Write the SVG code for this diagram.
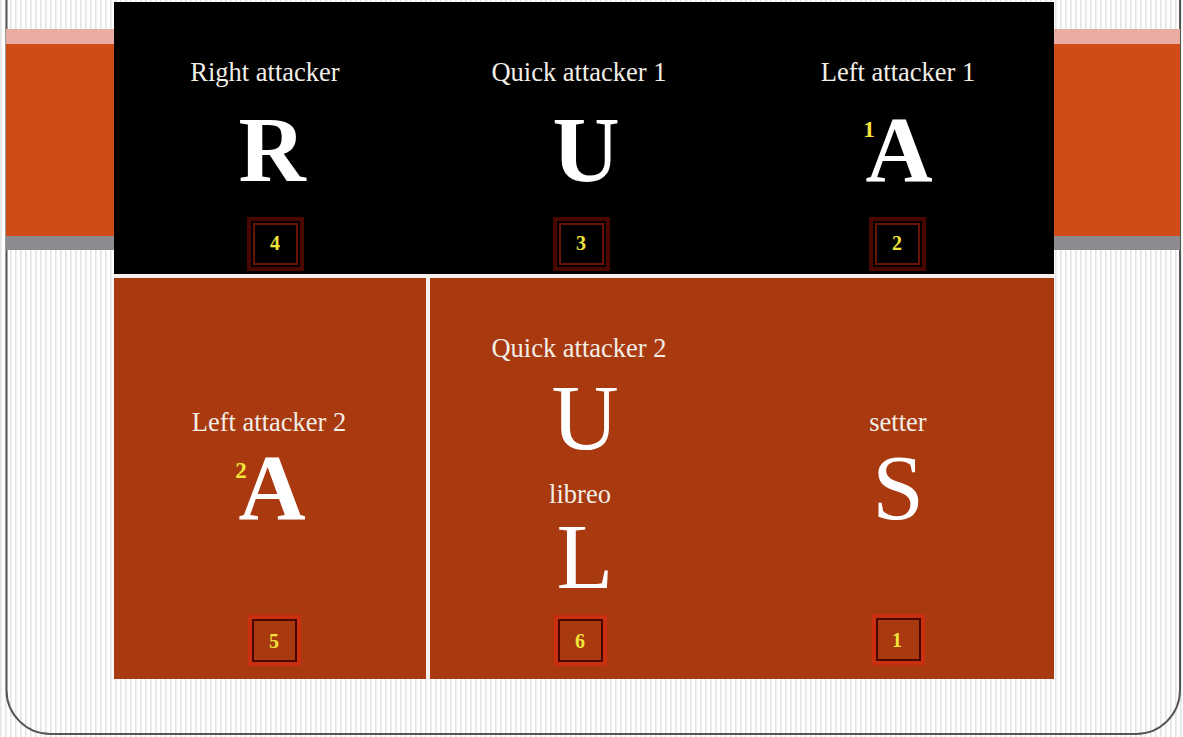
<svg xmlns="http://www.w3.org/2000/svg" width="1183" height="737" viewBox="0 0 1183 737">
<defs>
<pattern id="stripes" width="5" height="10" patternUnits="userSpaceOnUse">
<rect width="5" height="10" fill="#ffffff"/>
<rect x="0" width="1.6" height="10" fill="#e4e4e6"/>
</pattern>
</defs>
<style>
.lbl{font-family:"Liberation Serif","DejaVu Serif",serif;font-size:26.5px;fill:#f2eee6;text-anchor:middle}
.big{font-family:"Liberation Serif","DejaVu Serif",serif;font-size:93px;fill:#ffffff;text-anchor:middle}
.bold{font-weight:bold}
.num{font-family:"Liberation Serif","DejaVu Serif",serif;font-size:20px;font-weight:bold;fill:#f3e43c;text-anchor:middle}
.sup{font-family:"Liberation Serif","DejaVu Serif",serif;font-size:23px;font-weight:bold;fill:#f3e43c;text-anchor:middle}
.boxO{fill:none;stroke:#4a0700;stroke-width:4}
.boxI{fill:#000;stroke:#6a1106;stroke-width:2}
.bboxO{fill:none;stroke:#c8300f;stroke-width:4}
.bboxI{fill:#a9390f;stroke:#4a0700;stroke-width:2}
</style>
<rect width="1183" height="737" fill="url(#stripes)"/>
<path d="M6.5 0 V690 A44 44 0 0 0 50.5 734 H1136 A44 44 0 0 0 1180 690 V0" fill="none" stroke="#555555" stroke-width="2"/>
<rect x="6" y="29" width="1174" height="15" fill="#e8aca3"/>
<rect x="6" y="44" width="1174" height="192" fill="#d14b19"/>
<rect x="6" y="236" width="1174" height="14" fill="#8e8a91"/>
<rect x="114" y="2" width="940" height="272" fill="#000000"/>
<rect x="114" y="274" width="940" height="4" fill="#f4efea"/>
<rect x="114" y="278" width="312" height="401" fill="#a9390f"/>
<rect x="426" y="278" width="4" height="401" fill="#f4efea"/>
<rect x="430" y="278" width="624" height="401" fill="#a9390f"/>

<g id="right-attacker">
<text class="lbl" x="265" y="81">Right attacker</text>
<text class="big bold" x="272" y="181">R</text>
<rect class="boxO" x="249" y="219" width="53" height="50"/>
<rect class="boxI" x="254" y="224" width="43" height="40"/>
<text class="num" x="275" y="250">4</text>
</g>
<g id="quick-attacker-1">
<text class="lbl" x="579" y="81">Quick attacker 1</text>
<text class="big bold" x="586" y="181">U</text>
<rect class="boxO" x="555" y="219" width="53" height="50"/>
<rect class="boxI" x="560" y="224" width="43" height="40"/>
<text class="num" x="581" y="250">3</text>
</g>
<g id="left-attacker-1">
<text class="lbl" x="898" y="81">Left attacker 1</text>
<text class="big bold" x="899" y="181">A</text>
<text class="sup" x="869" y="137">1</text>
<rect class="boxO" x="871" y="219" width="53" height="50"/>
<rect class="boxI" x="876" y="224" width="43" height="40"/>
<text class="num" x="897" y="250">2</text>
</g>
<g id="left-attacker-2">
<text class="lbl" x="269" y="431">Left attacker 2</text>
<text class="big bold" x="272" y="519">A</text>
<text class="sup" x="241" y="478">2</text>
<rect class="bboxO" x="250" y="617" width="49" height="47"/>
<rect class="bboxI" x="253" y="620" width="43" height="41"/>
<text class="num" x="274" y="648">5</text>
</g>
<g id="quick-attacker-2">
<text class="lbl" x="579" y="357">Quick attacker 2</text>
<text class="big" x="585" y="449">U</text>
</g>
<g id="libreo">
<text class="lbl" x="580" y="503">libreo</text>
<text class="big" x="585" y="588">L</text>
<rect class="bboxO" x="556" y="617" width="49" height="47"/>
<rect class="bboxI" x="559" y="620" width="43" height="41"/>
<text class="num" x="580" y="648">6</text>
</g>
<g id="setter">
<text class="lbl" x="898" y="431">setter</text>
<text class="big" x="898" y="519">S</text>
<rect class="bboxO" x="874" y="616" width="49" height="47"/>
<rect class="bboxI" x="877" y="619" width="43" height="41"/>
<text class="num" x="897" y="647">1</text>
</g>
<g id="connectors"/>
</svg>
